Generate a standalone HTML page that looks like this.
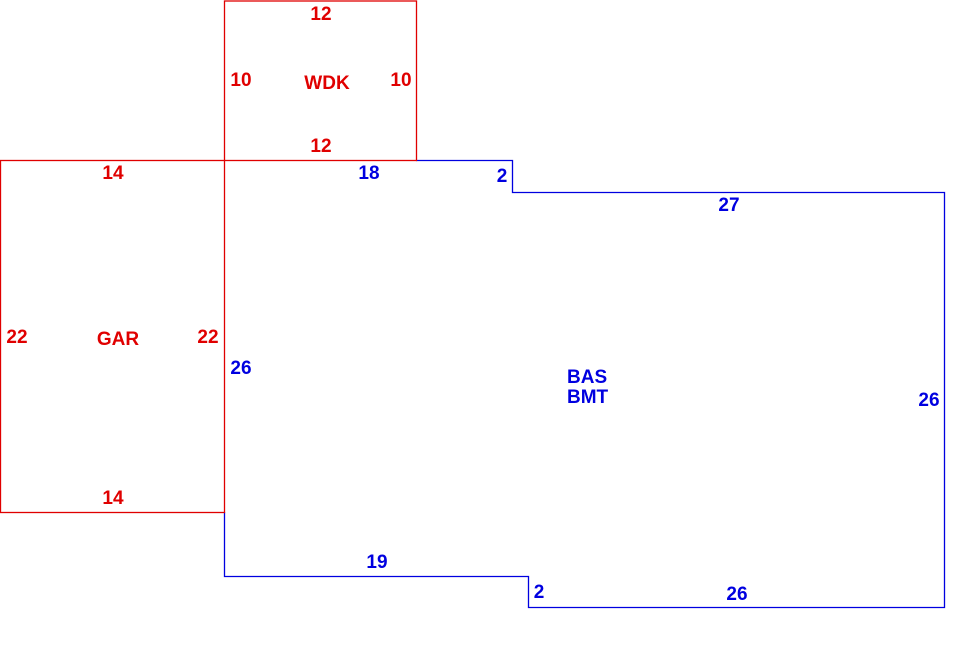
<!DOCTYPE html>
<html><head><style>html,body{margin:0;padding:0;background:#fff;}svg{display:block}</style></head>
<body>
<svg width="980" height="660" xmlns="http://www.w3.org/2000/svg" font-family="Liberation Sans, Arial, sans-serif" font-weight="bold" font-size="19">
<g fill="none" stroke-width="1.3">
<polyline stroke="#0000e0" points="416,160.5 512.5,160.5 512.5,192.5 944.5,192.5 944.5,607.5 528.5,607.5 528.5,576.5 224.5,576.5 224.5,512"/>
<rect x="224.5" y="1" width="192" height="159.5" stroke="#e00000"/>
<rect x="0.5" y="160.5" width="224" height="352" stroke="#e00000"/>
</g>
<g fill="#e00000" text-anchor="middle">
<text x="321" y="20">12</text>
<text x="241" y="86">10</text>
<text x="327" y="89">WDK</text>
<text x="401" y="86">10</text>
<text x="321" y="152">12</text>
<text x="113" y="179">14</text>
<text x="17" y="343">22</text>
<text x="118" y="345">GAR</text>
<text x="208" y="343">22</text>
<text x="113" y="504">14</text>
</g>
<g fill="#0000e0" text-anchor="middle">
<text x="369" y="179">18</text>
<text x="502" y="182">2</text>
<text x="729" y="211">27</text>
<text x="241" y="374">26</text>
<text x="567" y="383" text-anchor="start">BAS</text>
<text x="567" y="403" text-anchor="start">BMT</text>
<text x="929" y="406">26</text>
<text x="377" y="568">19</text>
<text x="539" y="598">2</text>
<text x="737" y="600">26</text>
</g>
</svg>
</body></html>
